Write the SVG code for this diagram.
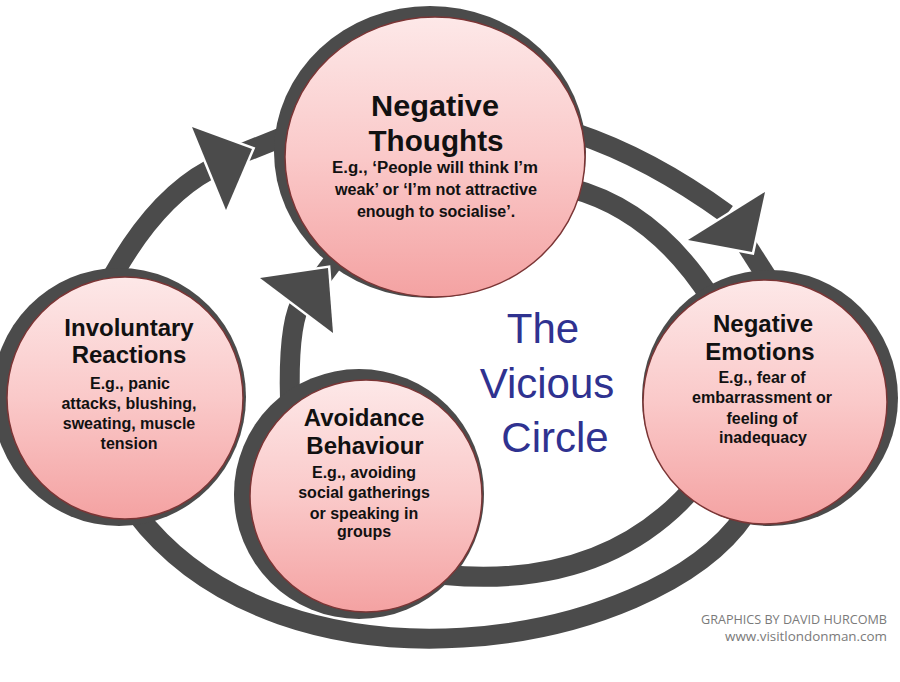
<svg xmlns="http://www.w3.org/2000/svg" width="900" height="682" viewBox="0 0 900 682">
<defs>
<linearGradient id="pink" x1="0" y1="0" x2="0" y2="1">
<stop offset="0" stop-color="#fde8e8"/>
<stop offset="0.5" stop-color="#fac9c9"/>
<stop offset="1" stop-color="#f4a2a2"/>
</linearGradient>
<style>
.band{fill:none;stroke:#4b4b4b;stroke-width:20}
.ring{fill:#4b4b4b}
.disc{fill:url(#pink);stroke:#7b3535;stroke-width:1.5}
.head{fill:#4b4b4b;stroke:#ffffff;stroke-width:5;stroke-linejoin:miter;paint-order:stroke}
.t{font-family:"Liberation Sans",Arial,sans-serif;font-weight:bold;fill:#111;text-anchor:middle}
.h{font-size:24px}
.s{font-size:16px}
.mid{font-family:"Liberation Sans",Arial,sans-serif;font-size:42px;fill:#2f3290;text-anchor:middle}
.cr{font-family:"Open Sans","DejaVu Sans",sans-serif;font-size:12px;fill:#7a7a7a;text-anchor:end}
</style>
</defs>
<rect width="900" height="682" fill="#ffffff"/>
<g id="connectors">
<path class="band" d="M100 300 Q148 203 209 170"/>
<path class="band" d="M235 156 L285 136"/>
<path class="band" d="M575 133 Q650 158 727 214"/>
<path class="band" d="M740 235 L772 285"/>
<path class="band" d="M745 515 C655 648 285 710 135 512"/>
<path class="band" d="M570 188 Q655 210 712 300"/>
<path class="band" d="M700 480 Q610 590 445 575"/>
<path class="band" d="M290 400 Q288 330 300 304"/>
<path class="band" d="M312 290 L348 242"/>
</g>
<g id="node-thoughts">
<ellipse class="ring" cx="430" cy="152" rx="156" ry="146"/>
<ellipse class="disc" cx="435" cy="157" rx="150" ry="140"/>
<text class="t" x="435" y="116" font-size="30" textLength="128" lengthAdjust="spacingAndGlyphs">Negative</text>
<text class="t" x="436" y="151" font-size="30" textLength="135" lengthAdjust="spacingAndGlyphs">Thoughts</text>
<text class="t s" x="435" y="173" textLength="206" lengthAdjust="spacingAndGlyphs">E.g., ‘People will think I’m</text>
<text class="t s" x="436" y="195" textLength="202" lengthAdjust="spacingAndGlyphs">weak’ or ‘I’m not attractive</text>
<text class="t s" x="436" y="217">enough to socialise’.</text>
</g>
<g id="node-involuntary">
<ellipse class="ring" cx="119" cy="397" rx="127" ry="129"/>
<ellipse class="disc" cx="125" cy="398" rx="118" ry="121"/>
<text class="t h" x="129" y="336">Involuntary</text>
<text class="t h" x="129" y="363">Reactions</text>
<text class="t s" x="130" y="389">E.g., panic</text>
<text class="t s" x="129" y="409">attacks, blushing,</text>
<text class="t s" x="129" y="429">sweating, muscle</text>
<text class="t s" x="129" y="449">tension</text>
</g>
<g id="node-emotions">
<ellipse class="ring" cx="770" cy="398" rx="128" ry="128"/>
<ellipse class="disc" cx="765" cy="402" rx="122" ry="122"/>
<text class="t h" x="763" y="332">Negative</text>
<text class="t h" x="760" y="360">Emotions</text>
<text class="t s" x="762" y="383">E.g., fear of</text>
<text class="t s" x="762" y="403" textLength="140" lengthAdjust="spacingAndGlyphs">embarrassment or</text>
<text class="t s" x="762" y="424">feeling of</text>
<text class="t s" x="763" y="443">inadequacy</text>
</g>
<g id="node-avoidance">
<ellipse class="ring" cx="359" cy="494" rx="125" ry="125"/>
<ellipse class="disc" cx="366" cy="496" rx="116" ry="116"/>
<text class="t h" x="364" y="426">Avoidance</text>
<text class="t h" x="365" y="454">Behaviour</text>
<text class="t s" x="364" y="478">E.g., avoiding</text>
<text class="t s" x="364" y="498">social gatherings</text>
<text class="t s" x="364" y="519">or speaking in</text>
<text class="t s" x="364" y="537">groups</text>
</g>
<g id="arrowheads">
<polygon class="head" points="192,127 226,210 252,149"/>
<polygon class="head" points="688,240 765,192 752,252"/>
<polygon class="head" points="260,278 333,333 328,268"/>
</g>
<g id="title">
<text class="mid" x="543" y="343">The</text>
<text class="mid" x="547" y="398">Vicious</text>
<text class="mid" x="555" y="452">Circle</text>
</g>
<g id="credits">
<text class="cr" x="887" y="624" textLength="186" lengthAdjust="spacingAndGlyphs">GRAPHICS BY DAVID HURCOMB</text>
<text class="cr" x="887" y="641" textLength="162" lengthAdjust="spacingAndGlyphs">www.visitlondonman.com</text>
</g>
</svg>
